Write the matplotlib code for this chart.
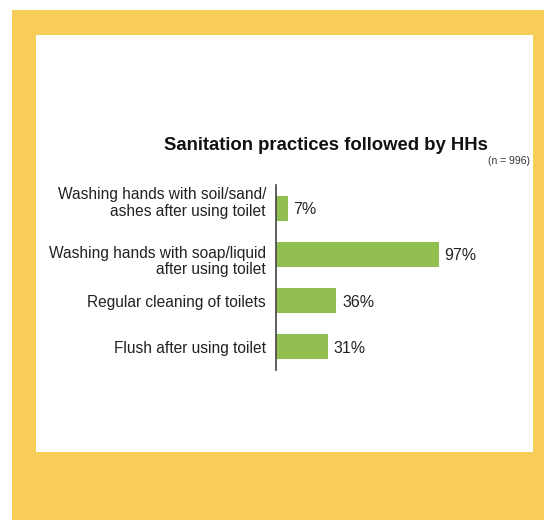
import matplotlib.pyplot as plt
from matplotlib.patches import Rectangle
from matplotlib.transforms import offset_copy

# chart data
categories = ['Washing hands with soil/sand/\nashes after using toilet',
              'Washing hands with soap/liquid\nafter using toilet',
              'Regular cleaning of toilets',
              'Flush after using toilet']
values = [7, 97, 36, 31]
title = 'Sanitation practices followed by HHs'
note = '(n = 996)'

plt.rcParams['font.family'] = ['Liberation Sans', 'DejaVu Sans']

W, H = 544, 520
fig = plt.figure(figsize=(W / 100, H / 100), dpi=100, facecolor='white')

# yellow frame and white panel
fig.add_artist(Rectangle((12 / W, 0), 1 - 12 / W, 1 - 10 / H,
                         transform=fig.transFigure, facecolor='#F7CD58',
                         edgecolor='none', zorder=0))
fig.add_artist(Rectangle((36 / W, 1 - 452 / H), (533 - 36) / W, (452 - 35) / H,
                         transform=fig.transFigure, facecolor='white',
                         edgecolor='none', zorder=0))

ax = fig.add_axes([276 / W, 1 - 370 / H, 168 / W, 185 / H])
ax.patch.set_alpha(0)
ypos = list(range(len(values)))
ax.barh(ypos, values, height=0.54, color='#92C050')
ax.set_xlim(0, 100)
ax.set_ylim(3.5, -0.5)

val_trans = offset_copy(ax.transData, fig=fig, x=0, y=-1.5, units='dots')
for y, v in zip(ypos, values):
    ax.text(v + 3.3, y, '{}%'.format(v), transform=val_trans, va='center',
            ha='left', fontsize=11.5, color='#222222', clip_on=False)

# category labels (the slide has them slightly off-centre on the first two bars)
label_shift = [5, -7, -2, -2]  # pixels, upward positive
trans = ax.get_yaxis_transform()
for y, lab, dy in zip(ypos, categories, label_shift):
    t = offset_copy(trans, fig=fig, x=-10, y=dy, units='dots')
    ax.text(0, y, lab, transform=t, ha='right', va='center', multialignment='right',
            fontsize=11.2, color='#222222', linespacing=1.12, clip_on=False)

ax.set_yticks([])
ax.set_xticks([])
for s in ['top', 'right', 'bottom']:
    ax.spines[s].set_visible(False)
ax.spines['left'].set_color('#444444')
ax.spines['left'].set_linewidth(1.2)

fig.text(326 / W, 1 - 145 / H, title, ha='center', va='center',
         fontsize=13.3, fontweight='bold', color='#111111')
fig.text(530 / W, 1 - 161 / H, note, ha='right', va='center',
         fontsize=7.5, color='#333333')

fig.savefig('out.png', dpi=100)
